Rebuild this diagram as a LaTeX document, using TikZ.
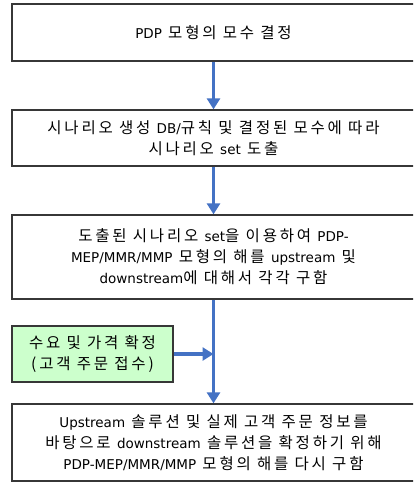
\documentclass[tikz,border=0pt]{standalone}
\usepackage{fontspec}
\setmainfont[LetterSpace=18]{Noto Sans CJK KR}
\newfontfamily\latfont{DejaVu Sans}
\newcommand{\lt}[1]{{\latfont\fontsize{13.5}{21}\selectfont #1}}
\usetikzlibrary{arrows.meta}

\definecolor{flowblue}{RGB}{68,114,196}
\definecolor{boxgreen}{RGB}{204,255,204}
\definecolor{boxline}{RGB}{55,55,55}

\tikzset{
  stepbox/.style={draw=boxline, line width=1.3pt, fill=white, minimum width=403pt, align=center, inner sep=0pt},
  inputbox/.style={stepbox, fill=boxgreen, minimum width=161pt},
  flow/.style={draw=flowblue, line width=3.2pt, -{Triangle[length=11pt,width=13pt]}}
}

\begin{document}
\begin{tikzpicture}[x=1pt,y=-1pt,font=\fontsize{15.5}{21}\selectfont]
	\useasboundingbox (0,0) rectangle (413,482);
	\clip (0,0) rectangle (413,482);
	
	\node[stepbox, minimum height=57pt] (param) at (213.5,32.5) {\lt{PDP} 모형의 모수 결정};
	\node[stepbox, minimum height=56pt] (scen) at (213.5,138) {시나리오 생성 \lt{DB/}규칙 및 결정된 모수에 따라\\시나리오 \lt{set} 도출};
	\node[stepbox, minimum height=84pt] (solve) at (213.5,257) {도출된 시나리오 \lt{set}을 이용하여 \lt{PDP-}\\\lt{MEP/MMR/MMP} 모형의 해를 \lt{upstream} 및\\\lt{downstream}에 대해서 각각 구함};
	\node[inputbox, minimum height=56pt] (demand) at (92.5,354) {수요 및 가격 확정\\(고객 주문 접수)};
	\node[stepbox, minimum height=77pt] (final) at (213.5,442.5) {\lt{Upstream} 솔루션 및 실제 고객 주문 정보를\\바탕으로 \lt{downstream} 솔루션을 확정하기 위해\\\lt{PDP-MEP/MMR/MMP} 모형의 해를 다시 구함};
	
	\coordinate (join) at (213.5,354);
	
	\draw[flow] (param.south) -- (scen.north);
	\draw[flow] (scen.south) -- (solve.north);
	\draw[flow] (solve.south) -- (final.north);
	\draw[flow] (demand.east) -- (join);
\end{tikzpicture}
\end{document}
